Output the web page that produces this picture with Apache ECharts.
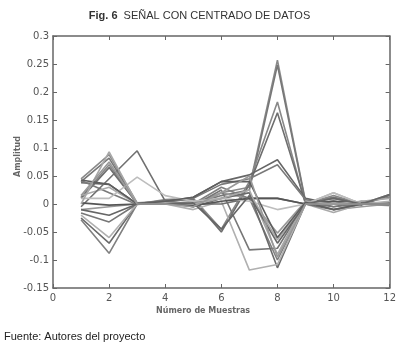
<!DOCTYPE html>
<html>
<head>
<meta charset="utf-8">
<script src="https://cdn.jsdelivr.net/npm/echarts@6/dist/echarts.min.js"></script>
<style>
  html, body { margin: 0; padding: 0; background: #fff; }
  #chart { width: 399px; height: 347px; }
</style>
</head>
<body>
<div id="chart"></div>
<script>
// sample numbers 1..12
const muestras = [1, 2, 3, 4, 5, 6, 7, 8, 9, 10, 11, 12];

// amplitude curves (centered signal), one array per trace
const s01 = [0.045, 0.088, 0.002, 0.005, -0.005, 0.02, 0.03, 0.257, 0.005, 0.01, 0.0, 0.015];
const s02 = [0.04, 0.082, 0.0, 0.002, 0.0, 0.015, 0.025, 0.248, 0.003, 0.012, 0.002, 0.012];
const s03 = [0.012, 0.07, 0.0, 0.008, 0.01, -0.045, 0.04, 0.182, 0.0, 0.015, 0.0, 0.017];
const s04 = [0.01, 0.065, 0.001, 0.006, 0.008, -0.05, 0.035, 0.163, 0.002, 0.005, -0.002, 0.016];
const s05 = [0.038, 0.035, 0.0, 0.004, 0.012, 0.04, 0.052, 0.079, 0.01, 0.0, 0.0, 0.0];
const s06 = [0.042, 0.02, -0.001, 0.003, 0.01, 0.035, 0.045, 0.07, 0.008, -0.005, 0.0, 0.002];
const s07 = [-0.01, -0.005, 0.0, 0.0, 0.0, 0.02, 0.01, -0.052, 0.005, -0.01, -0.005, 0.0];
const s08 = [0.015, 0.03, 0.0, 0.0, 0.005, 0.01, 0.02, -0.064, 0.0, -0.015, 0.0, -0.003];
const s09 = [-0.016, -0.032, 0.0, 0.005, -0.003, 0.025, -0.082, -0.079, 0.002, -0.005, 0.005, 0.0];
const s10 = [-0.028, -0.088, 0.0, 0.0, 0.0, 0.03, 0.01, -0.1, 0.0, 0.0, 0.0, -0.002];
const s11 = [-0.025, -0.07, 0.001, 0.002, -0.005, 0.01, 0.02, -0.114, 0.0, 0.005, 0.002, 0.0];
const s12 = [-0.02, -0.06, 0.0, 0.0, -0.01, 0.005, -0.118, -0.108, 0.0, 0.02, 0.0, 0.005];
const s13 = [-0.005, 0.045, 0.095, 0.005, 0.0, 0.0, 0.01, 0.01, 0.0, -0.01, 0.0, 0.0];
const s14 = [0.01, 0.01, 0.048, 0.015, 0.005, 0.01, 0.005, -0.01, 0.0, 0.02, 0.0, 0.0];
const s15 = [0.002, -0.002, 0.0, 0.003, -0.003, 0.005, 0.01, 0.01, 0.0, 0.005, 0.0, 0.0];
const s16 = [0.0, 0.093, 0.0, 0.002, 0.0, 0.01, 0.025, -0.09, 0.005, 0.0, 0.005, 0.01];
const s17 = [-0.01, -0.02, 0.0, 0.0, 0.002, -0.045, 0.015, -0.07, 0.0, 0.01, 0.0, 0.017];
const s18 = [0.043, 0.035, 0.0, 0.005, 0.012, 0.04, 0.04, -0.06, 0.003, -0.01, 0.0, 0.0];
const s19 = [0.015, 0.075, 0.0, 0.0, -0.005, 0.02, 0.05, -0.095, 0.0, 0.0, 0.0, 0.0];

const traces = [s01, s02, s03, s04, s05, s06, s07, s08, s09, s10, s11, s12, s13, s14, s15, s16, s17, s18, s19];
const grays = ['#8a8a8a', '#777', '#888', '#6e6e6e', '#666', '#7a7a7a', '#999', '#aaa', '#777', '#808080',
               '#6a6a6a', '#b0b0b0', '#707070', '#bdbdbd', '#555', '#a8a8a8', '#666', '#5e5e5e', '#999'];

const chart = echarts.init(document.getElementById('chart'));

const tickFont = { fontFamily: 'DejaVu Sans', fontSize: 10, color: '#555' };
const axisLine = { show: true, onZero: false, lineStyle: { color: '#666', width: 1.5 } };
const ticks = { inside: true, length: 4, lineStyle: { color: '#666' } };
const fmt = v => String(+v.toFixed(2));

chart.setOption({
  animation: false,
  backgroundColor: '#fff',
  title: {
    text: '{b|Fig. 6}  SEÑAL CON CENTRADO DE DATOS',
    left: 'center',
    top: 5,
    textStyle: {
      fontFamily: 'Liberation Sans',
      fontSize: 11,
      fontWeight: 'normal',
      color: '#333',
      rich: { b: { fontFamily: 'Liberation Sans', fontSize: 11, fontWeight: 'bold', color: '#333' } }
    }
  },
  grid: { left: 53, right: 8, top: 36, bottom: 59 },
  xAxis: [
    {
      type: 'value', min: 0, max: 12, interval: 2,
      axisLine: axisLine, axisTick: ticks,
      axisLabel: Object.assign({ margin: 5 }, tickFont),
      splitLine: { show: false }
    },
    {
      type: 'value', position: 'top', min: 0, max: 12, interval: 2,
      axisLine: axisLine, axisTick: ticks,
      axisLabel: { show: false },
      splitLine: { show: false }
    }
  ],
  yAxis: [
    {
      type: 'value', min: -0.15, max: 0.3, interval: 0.05,
      axisLine: axisLine, axisTick: ticks,
      axisLabel: Object.assign({ margin: 4, formatter: fmt }, tickFont),
      splitLine: { show: false }
    },
    {
      type: 'value', position: 'right', min: -0.15, max: 0.3, interval: 0.05,
      axisLine: axisLine, axisTick: ticks,
      axisLabel: { show: false },
      splitLine: { show: false }
    }
  ],
  series: traces.map((vals, i) => ({
    type: 'line',
    data: muestras.map((m, j) => [m, vals[j]]),
    showSymbol: false,
    lineStyle: { color: grays[i], width: 1.6 },
    z: 2
  })),
  graphic: [
    {
      type: 'text', left: 14, top: 136, rotation: Math.PI / 2,
      style: { text: 'Amplitud', fontFamily: 'DejaVu Sans', fontSize: 8, fontWeight: 'bold', fill: '#666' }
    },
    {
      type: 'text', left: 156, top: 307,
      style: { text: 'Número de Muestras', fontFamily: 'DejaVu Sans', fontSize: 8, fontWeight: 'bold', fill: '#666' }
    },
    {
      type: 'text', left: 4, top: 331,
      style: { text: 'Fuente: Autores del proyecto', fontFamily: 'Liberation Sans', fontSize: 11, fill: '#222' }
    }
  ]
});
</script>
</body>
</html>
